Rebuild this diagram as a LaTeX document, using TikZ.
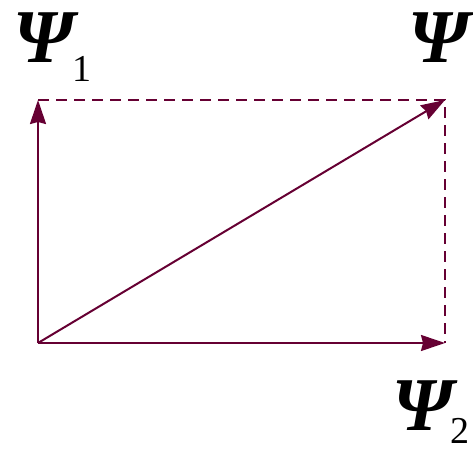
\documentclass[tikz,border=0pt]{standalone}
\usepackage{fontspec}
\setmainfont{Liberation Serif}
\usetikzlibrary{arrows.meta}
\definecolor{vecmaroon}{RGB}{102,0,51}

\begin{document}
\begin{tikzpicture}[x=1pt, y=1pt, >={Stealth[length=24pt, width=16pt, inset=2pt]}, line width=2pt]
\tikzset{
  vecline/.style={draw=vecmaroon, ->},
  helpline/.style={draw=vecmaroon, line width=1.6pt, dash pattern=on 11pt off 7pt},
  psilabel/.style={anchor=base west, inner sep=0pt, font=\fontsize{76}{76}\selectfont\bfseries\itshape},
  sublabel/.style={anchor=base west, inner sep=0pt, text depth=0pt, font=\fontsize{38}{38}\selectfont}
}
\useasboundingbox (0,0) rectangle (473,448);

\coordinate (o) at (38,105);
\coordinate (p1) at (38,348);
\coordinate (p2) at (445,105);
\coordinate (p) at (445,348);

% components and sum
\draw[helpline] (p1) -- (p) -- (p2);
\draw[vecline] (o) -- (p1);
\draw[vecline] (o) -- (p2);
\draw[vecline] (o) -- (p);

% labels
\node[psilabel] (psi1) at (12,385) {Ψ};
\node[sublabel] (sub1) at (71,366) {1};
\node[psilabel] (psi) at (407,385) {Ψ};
\node[psilabel] (psi2) at (391,18) {Ψ};
\node[sublabel] (sub2) at (449,5) {2};
\end{tikzpicture}
\end{document}
